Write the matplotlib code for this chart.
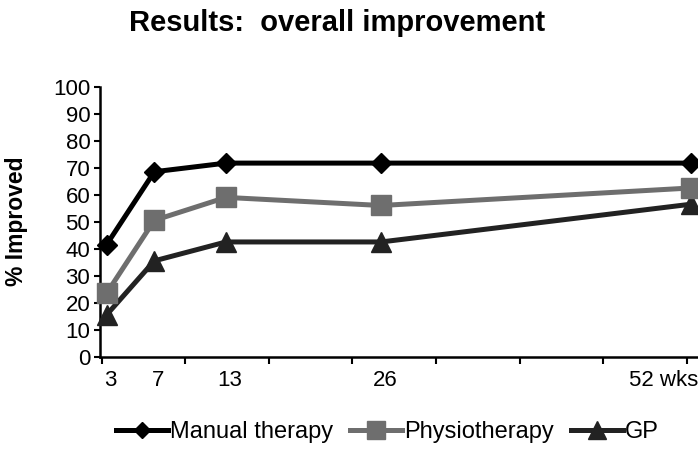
import numpy as np
import matplotlib.pyplot as plt
from matplotlib import transforms

plt.rcParams['font.family'] = ['Liberation Sans', 'DejaVu Sans']

# data
weeks = [3, 7, 13, 26, 52]
week_labels = ['3', '7', '13', '26', '52 wks']
manual = [41.5, 68.5, 71.7, 71.7, 71.7]
physio = [23.5, 50.5, 59.0, 56.0, 62.5]
gp = [15.5, 35.5, 42.5, 42.5, 56.5]

fig = plt.figure(figsize=(6.98, 4.55), dpi=100)
ax = fig.add_axes([0.1433, 0.216, 0.8567, 0.5935])

ax.plot(weeks, manual, color='#000000', lw=3.6, marker='D', ms=10, clip_on=False,
        label='Manual therapy', zorder=5)
ax.plot(weeks, physio, color='#6e6e6e', lw=3.6, marker='s', ms=15, clip_on=False,
        label='Physiotherapy', zorder=4)
ax.plot(weeks, gp, color='#222222', lw=3.6, marker='^', ms=15, clip_on=False,
        label='GP', zorder=3)

ax.set_xlim(2.45, 52.55)
ax.set_ylim(0, 100)
ax.set_yticks(np.arange(0, 101, 10))
ax.tick_params(axis='y', labelsize=16, length=4, width=1.5, pad=3, direction='out')

# unlabeled ticks on the x axis, week labels written under the points
ax.set_xticks(np.arange(2.6, 53, 7))
ax.set_xticklabels([])
ax.tick_params(axis='x', length=5, width=1.5, direction='out')
trans = transforms.blended_transform_factory(ax.transData, ax.transAxes) + \
    transforms.ScaledTranslation(4 / 100, 0, fig.dpi_scale_trans)
for i, (w, lab) in enumerate(zip(weeks, week_labels)):
    last = i == len(weeks) - 1
    ax.text(52.55 if last else w, -0.05, lab, transform=trans if not last else
            transforms.blended_transform_factory(ax.transData, ax.transAxes),
            ha='right' if last else 'center', va='top', fontsize=16)

for s in ['top', 'right']:
    ax.spines[s].set_visible(False)
for s in ['left', 'bottom']:
    ax.spines[s].set_linewidth(1.8)

ax.set_ylabel('% Improved', fontsize=16.5, fontweight='bold')
ax.yaxis.set_label_coords(-0.12, 0.5)

fig.text(0.483, 0.932, 'Results:  overall improvement', fontsize=21,
         fontweight='bold', ha='center', va='baseline')

fig.legend(loc='center', bbox_to_anchor=(0.555, 0.05), ncol=3, frameon=False,
           fontsize=17, handlelength=2.2, handletextpad=0.1, columnspacing=0.7,
           markerscale=0.85)

fig.savefig('out.png', dpi=100)
